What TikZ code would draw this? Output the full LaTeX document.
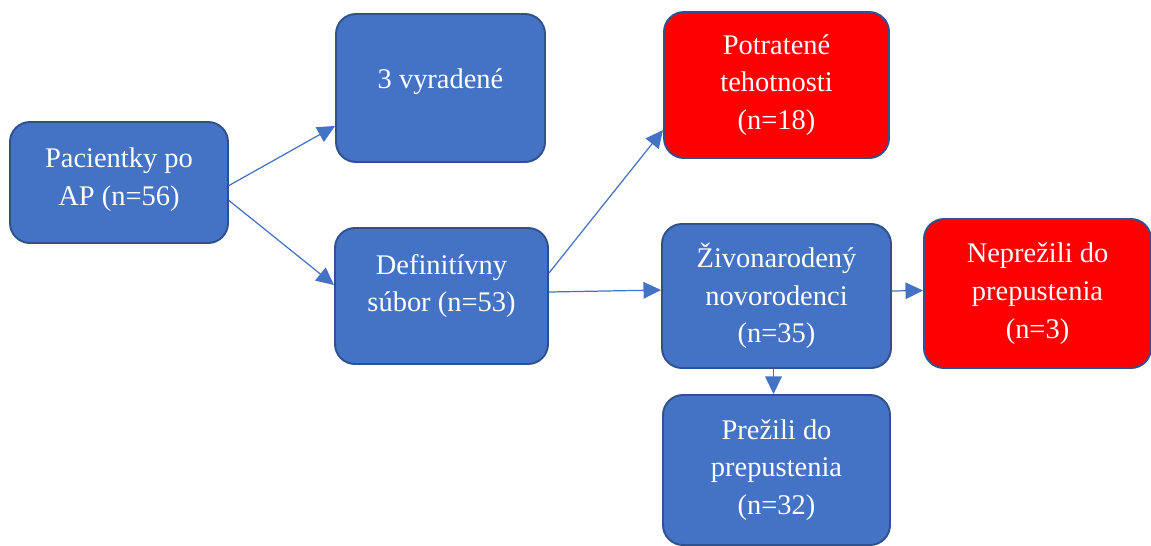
\documentclass[tikz,border=0pt]{standalone}
\usepackage{fontspec}
\setmainfont{Liberation Serif}
\usepackage{tikz}
\usetikzlibrary{arrows.meta,calc}
\definecolor{boxblue}{HTML}{4472C4}
\definecolor{boxedge}{HTML}{2F528F}
\definecolor{boxred}{HTML}{FF0000}

\begin{document}
\begin{tikzpicture}[x=0.02cm,y=-0.02cm,
  box/.style={draw=boxedge,line width=1.1pt,rounded corners=0.4cm,fill=boxblue},
  redbox/.style={box,fill=boxred},
  txt/.style={text=white,align=center,font=\fontsize{16.2}{21.5}\selectfont},
  arr/.style={draw=boxblue,line width=0.7pt,-{Triangle[length=10pt,width=9.5pt]}}]
\useasboundingbox (0,0) rectangle (1151,545);
% boxes
\node[box,minimum width=218*0.02cm,minimum height=121*0.02cm] (pac) at (119,182.5) {};
\node[box,minimum width=209*0.02cm,minimum height=148*0.02cm] (vyr) at (440.5,88) {};
\node[box,minimum width=213*0.02cm,minimum height=136*0.02cm] (def) at (441.5,296) {};
\node[redbox,minimum width=225*0.02cm,minimum height=146*0.02cm] (potr) at (776.5,85) {};
\node[box,minimum width=229*0.02cm,minimum height=144*0.02cm] (ziv) at (776.5,296) {};
\node[redbox,minimum width=227*0.02cm,minimum height=149*0.02cm] (nepr) at (1037.5,293.5) {};
\node[box,minimum width=227*0.02cm,minimum height=150*0.02cm] (prez) at (776.5,470) {};
% texts
\node[txt] (pac-t) at ($(pac)+(0,-3)$) {Pacientky po\\AP (n=56)};
\node[txt] (vyr-t) at ($(vyr)+(0,-6)$) {3 vyradené};
\node[txt] (def-t) at ($(def)+(0,-10)$) {Definitívny\\súbor (n=53)};
\node[txt] (potr-t) at (potr) {Potratené\\tehotnosti\\(n=18)};
\node[txt] (ziv-t) at (ziv) {Živonarodený\\novorodenci\\(n=35)};
\node[txt] (nepr-t) at (nepr) {Neprežili do\\prepustenia\\(n=3)};
\node[txt] (prez-t) at (prez) {Prežili do\\prepustenia\\(n=32)};
% connectors
\draw[arr] ($(pac.east)+(0,3)$) -- ($(vyr.west)+(0,38)$);
\draw[arr] ($(pac.east)+(0,18)$) -- ($(def.west)+(0,-11)$);
\draw[arr] ($(def.east)+(0,-23)$) -- ($(potr.west)+(0,45)$);
\draw[arr] ($(def.east)+(0,-4)$) -- ($(ziv.west)+(0,-6)$);
\draw[arr] ($(ziv.east)+(0,-5)$) -- ($(nepr.west)+(0,-3)$);
\draw[arr] ($(ziv.south)+(-3,0)$) -- ($(prez.north)+(-3,0)$);
\end{tikzpicture}
\end{document}
